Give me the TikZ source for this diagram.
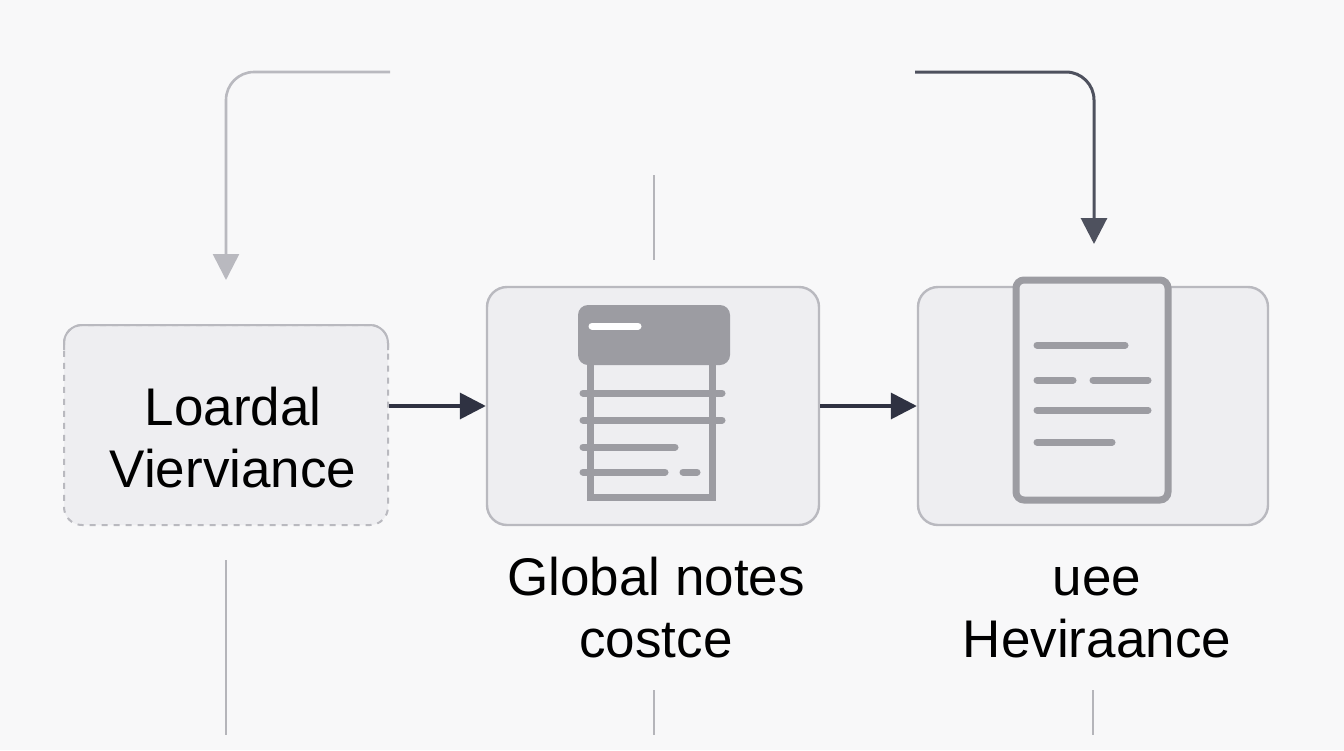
\documentclass[tikz,border=0pt]{standalone}
\usepackage{fontspec}
\setmainfont{Liberation Sans}
\usetikzlibrary{arrows.meta}
\definecolor{bg}{HTML}{F8F8F9}
\definecolor{boxf}{HTML}{EEEEF1}
\definecolor{boxs}{HTML}{B9B9BF}
\definecolor{dark}{HTML}{2F3242}
\definecolor{icon}{HTML}{9C9CA2}
\definecolor{thin}{HTML}{B5B5BA}
\begin{document}
\begin{tikzpicture}[x=0.5pt,y=-0.5pt,
 box/.style={draw=boxs,fill=boxf,line width=1.2pt,rounded corners=10pt},
 lbl/.style={align=center,font=\fontsize{26.5}{31}\selectfont,text=black},
 conn/.style={line width=1.8pt,-{Triangle[length=13pt,width=13pt]}},
 ic/.style={draw=icon,line width=3.5pt,line cap=round},
 faint/.style={draw=thin,line width=1pt}]
\fill[bg] (0,0) rectangle (1344,750);
\useasboundingbox (0,0) rectangle (1344,750);
% left box
\node[draw=boxs,fill=boxf,dashed,line width=1pt,rounded corners=9pt,minimum width=162pt,minimum height=100pt] (L) at (226,425) {};
\draw[boxs,line width=1pt,rounded corners=9pt] (64,350)--(64,325)--(388,325)--(388,350);
\node[lbl] (Lt) at (233,438) {Loardal\\Vierviance};
% middle box
\node[box,minimum width=166pt,minimum height=119pt] (M) at (653,406) {};
\fill[icon,rounded corners=5pt] (578,305) rectangle (730,365);
\draw[white,line width=3.5pt,line cap=round] (592,326)--(638,326);
\draw[ic] (590,365)--(590,497)--(712,497)--(712,365);
\draw[ic] (583,393)--(722,393);
\draw[ic] (583,420)--(722,420);
\draw[ic] (583,447)--(675,447);
\draw[ic] (583,472)--(665,472);
\draw[ic] (683,472)--(697,472);
% right box
\node[box,minimum width=175pt,minimum height=119pt] (R) at (1093,406) {};
\draw[icon,line width=3.5pt,fill=boxf,rounded corners=4pt] (1016,280) rectangle (1168,500);
\draw[ic] (1037,345)--(1125,345);
\draw[ic] (1037,380)--(1073,380);
\draw[ic] (1093,380)--(1148,380);
\draw[ic] (1037,410)--(1148,410);
\draw[ic] (1037,442)--(1112,442);
% arrows
\draw[conn,dark] (L.east|-M.west) -- (M.west);
\draw[conn,dark] (M.east) -- (R.west);
\coordinate (t1) at (390,72);
\coordinate (t2) at (915,72);
\coordinate (a1) at (226,280);
\coordinate (a2) at (1094,244);
\draw[conn,boxs,rounded corners=14pt,line width=1.3pt] (t1) -- (226,72) -- (a1);
\draw[conn,dark!85,rounded corners=14pt,line width=1.5pt] (t2) -- (1094,72) -- (a2);
% faint lines
\coordinate (v1) at (654,175); \coordinate (v2) at (654,260);
\coordinate (v3) at (226,560); \coordinate (v4) at (226,735);
\coordinate (v5) at (654,690); \coordinate (v6) at (654,735);
\coordinate (v7) at (1093,690); \coordinate (v8) at (1093,735);
\draw[faint] (v1)--(v2); \draw[faint] (v3)--(v4); \draw[faint] (v5)--(v6); \draw[faint] (v7)--(v8);
% labels
\node[lbl] (Mt) at (656,608) {Global notes\\costce};
\node[lbl] (Rt) at (1097,612) {uee\\Heviraance};
\end{tikzpicture}
\end{document}
